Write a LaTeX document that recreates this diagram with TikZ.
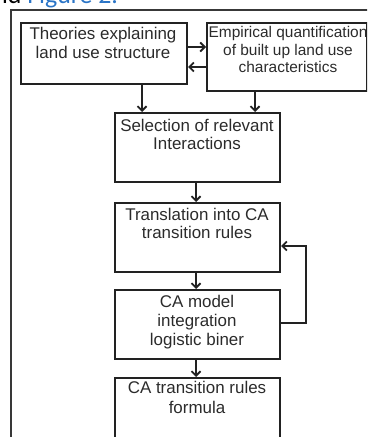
\documentclass[tikz,border=0pt]{standalone}
\usepackage{fontspec}
\setmainfont{Liberation Sans}
\newfontfamily\capfont{Carlito}
\usetikzlibrary{arrows.meta}
\definecolor{txt}{HTML}{2B2B2B}
\definecolor{edge}{HTML}{222222}
\definecolor{linkblue}{HTML}{2A74C6}
\begin{document}
\begin{tikzpicture}[x=1bp,y=-1bp,
  boxstyle/.style={draw=edge, line width=2bp, inner sep=0pt, anchor=north west},
  labelstyle/.style={text=txt, inner sep=0pt, anchor=north, align=center},
  arr/.style={draw=edge, line width=2bp, -{Straight Barb[length=4.5bp,width=9bp,line width=1.8bp]}},
  framestyle/.style={draw=edge!90, line width=1.4bp}]
\useasboundingbox (0,0) rectangle (367,437);
\clip (0,0) rectangle (367,437);

% caption fragment cut off at the top
\node[anchor=base west, inner sep=0pt, font=\capfont\fontsize{26}{28}\selectfont] (cap) at (-6,4) {nd \textcolor{linkblue}{Figure 2.}};

% outer frame
\coordinate (fbl) at (11,440);
\coordinate (ftl) at (11,10);
\coordinate (ftr) at (370,10);
\draw[framestyle] (fbl) -- (ftl) -- (ftr);

% boxes
\node[boxstyle, minimum width=166bp, minimum height=61bp] (b1) at (20,22) {};
\node[boxstyle, minimum width=160bp, minimum height=68bp] (b2) at (206,22) {};
\node[boxstyle, minimum width=165bp, minimum height=69bp] (b3) at (114,112) {};
\node[boxstyle, minimum width=165bp, minimum height=69bp] (b4) at (114,202) {};
\node[boxstyle, minimum width=165bp, minimum height=69bp] (b5) at (114,289) {};
\node[boxstyle, minimum width=165bp, minimum height=60bp] (b6) at (114,377) {};

% texts
\node[labelstyle, font=\fontsize{17}{20}\selectfont] (t1) at (103,26.6) {Theories explaining\\land use structure};
\node[labelstyle, font=\fontsize{15.5}{18}\selectfont] (t2) at (288,25.7) {Empirical quantification\\of built up land use\\characteristics};
\node[labelstyle, font=\fontsize{17}{18.6}\selectfont] (t3) at (197,118.6) {Selection of relevant\\Interactions};
\node[labelstyle, font=\fontsize{17}{18.6}\selectfont] (t4) at (197,207.6) {Translation into CA\\transition rules};
\node[labelstyle, font=\fontsize{17}{19.5}\selectfont] (t5) at (197,294.6) {CA model\\integration\\logistic biner};
\node[labelstyle, font=\fontsize{17}{20.5}\selectfont] (t6) at (197,380.6) {CA transition rules\\formula};

% helper coordinates
\coordinate (ya) at (0,47);
\coordinate (yb) at (0,67);
\coordinate (xa) at (142,0);
\coordinate (xb) at (255,0);
\coordinate (xc) at (196,0);
\coordinate (yfb) at (0,246);
\coordinate (yfa) at (0,323);
\coordinate (xfb) at (306,0);

% connectors
\draw[arr] (b1.east |- ya) -- (b2.west |- ya);
\draw[arr] (b2.west |- yb) -- (b1.east |- yb);
\draw[arr] (b1.south -| xa) -- (b3.north -| xa);
\draw[arr] (b2.south -| xb) -- (b3.north -| xb);
\draw[arr] (b3.south -| xc) -- (b4.north -| xc);
\draw[arr] (b4.south -| xc) -- (b5.north -| xc);
\draw[arr] (b5.south -| xc) -- (b6.north -| xc);
\draw[arr] (b5.east |- yfa) -- (xfb |- yfa) -- (xfb |- yfb) -- (b4.east |- yfb);
\end{tikzpicture}
\end{document}
